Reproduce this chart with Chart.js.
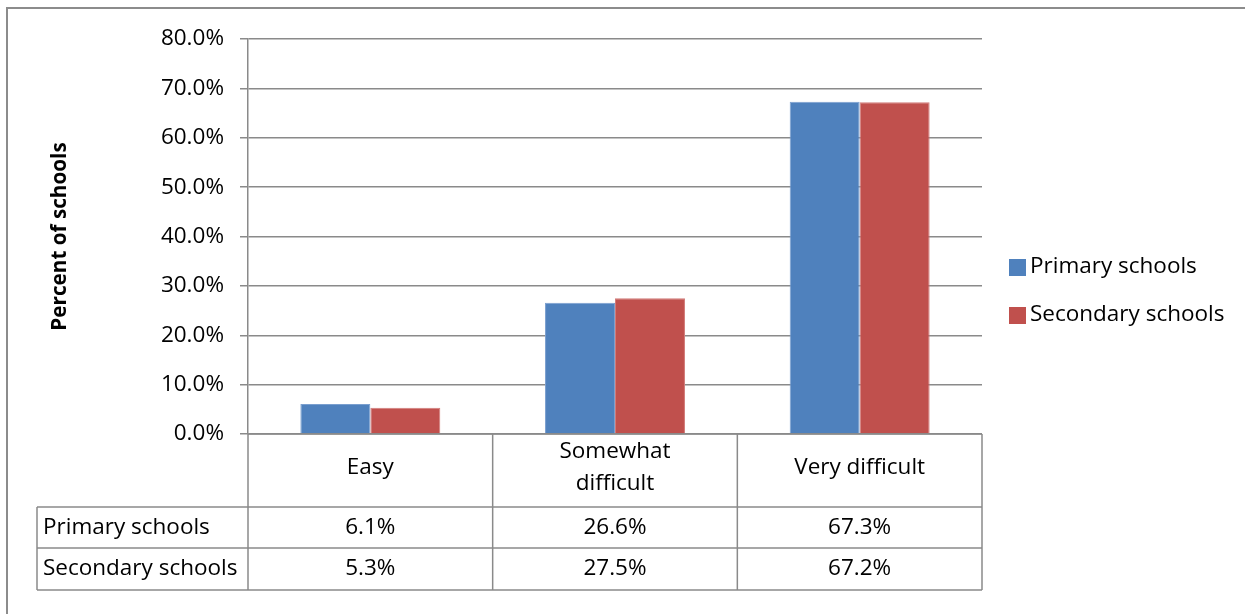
<!DOCTYPE html>
<html>
<head>
<meta charset="utf-8">
<script src="https://cdn.jsdelivr.net/npm/chart.js@4/dist/chart.umd.min.js"></script>
<style>
  html, body { margin: 0; padding: 0; background: #fff; }
  #wrap { width: 1245px; height: 614px; position: relative; }
</style>
</head>
<body>
<div id="wrap"><canvas id="chart"></canvas></div>
<script>
const categories = [["Easy"], ["Somewhat", "difficult"], ["Very difficult"]]
const seriesNames = ["Primary schools", "Secondary schools"]
const primaryValues = [6.1, 26.6, 67.3]
const secondaryValues = [5.3, 27.5, 67.2]
const yTicks = [0, 10, 20, 30, 40, 50, 60, 70, 80]

const FONT = "'Open Sans', Lato, sans-serif"
const TEXT_SIZE = 22.5
const LINE = "#8a8a8a"
const colors = [["#4F81BD", "#7a9fcf"], ["#C0504D", "#d27b79"]]

// Excel-style data table under the plot, columns follow the x scale
const dataTable = {
  id: "dataTable",
  afterDraw(chart) {
    const { ctx, chartArea, scales: { x } } = chart
    const half = (x.getPixelForValue(1) - x.getPixelForValue(0)) / 2
    const left = 37, top = chartArea.bottom
    const rows = [top + 73, top + 114, top + 156]
    const right = chartArea.right

    ctx.save()
    ctx.strokeStyle = LINE
    ctx.lineWidth = 1.5
    ctx.beginPath()
    // horizontal lines
    ctx.moveTo(chartArea.left, top); ctx.lineTo(right, top)
    rows.forEach(y => { ctx.moveTo(left, y); ctx.lineTo(right, y) })
    // vertical lines
    ctx.moveTo(left, rows[0]); ctx.lineTo(left, rows[2])
    categories.forEach((_, i) => {
      const xl = x.getPixelForValue(i) - half
      ctx.moveTo(xl, top); ctx.lineTo(xl, rows[2])
    })
    ctx.moveTo(right, top); ctx.lineTo(right, rows[2])
    ctx.stroke()

    ctx.fillStyle = "#000"
    ctx.font = TEXT_SIZE + "px " + FONT
    ctx.textBaseline = "middle"
    chart.data.datasets.forEach((ds, r) => {
      const yc = (rows[r] + rows[r + 1]) / 2
      ctx.textAlign = "left"
      ctx.fillText(ds.label, left + 6, yc)
      ctx.textAlign = "center"
      ds.data.forEach((v, i) => ctx.fillText(v.toFixed(1) + "%", x.getPixelForValue(i), yc))
    })

    // legend
    const lx = chartArea.right + 27
    chart.data.datasets.forEach((ds, r) => {
      const ly = 267 + r * 48
      ctx.fillStyle = ds.backgroundColor
      ctx.fillRect(lx, ly - 8, 17, 17)
      ctx.fillStyle = "#000"
      ctx.textAlign = "left"
      ctx.fillText(ds.label, lx + 21, ly)
    })

    // outer frame (top/left visible)
    ctx.strokeStyle = "#8c8c8c"
    ctx.lineWidth = 2
    ctx.strokeRect(7, 8, 1260, 640)
    ctx.restore()
  }
}

new Chart(document.getElementById("chart"), {
  type: "bar",
  data: {
    labels: categories,
    datasets: [primaryValues, secondaryValues].map((vals, i) => ({
      label: seriesNames[i],
      data: vals,
      backgroundColor: colors[i][0],
      borderColor: colors[i][1],
      borderWidth: 1,
      categoryPercentage: 0.572,
      barPercentage: 1
    }))
  },
  options: {
    responsive: true,
    maintainAspectRatio: false,
    animation: false,
    layout: { padding: { left: 40, top: 39, right: 263, bottom: 0 } },
    plugins: {
      legend: { display: false },
      tooltip: { enabled: false }
    },
    scales: {
      x: {
        grid: { display: false, drawTicks: false },
        border: { display: false },
        ticks: {
          color: "#000",
          font: { family: FONT, size: TEXT_SIZE, lineHeight: 1.42 },
          padding: 18,
          crossAlign: "center",
          maxRotation: 0
        },
        afterFit: scale => { scale.height = 180 }
      },
      y: {
        min: 0,
        max: 80,
        afterBuildTicks: scale => { scale.ticks = yTicks.map(v => ({ value: v })) },
        grid: { color: LINE, lineWidth: 1.5, tickLength: 8 },
        border: { color: LINE, width: 1.5 },
        ticks: {
          color: "#000",
          font: { family: FONT, size: TEXT_SIZE },
          padding: 16,
          callback: v => v.toFixed(1) + "%"
        },
        title: {
          display: true,
          text: "Percent of schools",
          color: "#000",
          font: { family: FONT, size: 20.7, weight: "bold" },
          padding: { top: 8, bottom: 0 }
        },
        afterFit: scale => { scale.width = 208 }
      }
    }
  },
  plugins: [dataTable]
})
</script>
</body>
</html>
